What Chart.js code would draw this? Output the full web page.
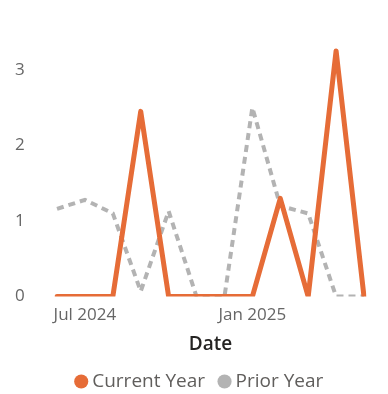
<!DOCTYPE html>
<html>
<head>
<meta charset="utf-8">
<script src="https://cdn.jsdelivr.net/npm/chart.js@4.4.1/dist/chart.umd.min.js"></script>
<style>
  html, body { margin: 0; padding: 0; background: #ffffff; }
  #wrap { width: 388px; height: 394px; }
</style>
</head>
<body>
<div id="wrap"><canvas id="trendChart" width="388" height="394"></canvas></div>
<script>
// Monthly values, Jun 2024 - May 2025
const months = ['Jun 2024', 'Jul 2024', 'Aug 2024', 'Sep 2024', 'Oct 2024', 'Nov 2024',
                'Dec 2024', 'Jan 2025', 'Feb 2025', 'Mar 2025', 'Apr 2025', 'May 2025'];
const currentYear = [0, 0, 0, 2.45, 0, 0, 0, 0, 1.3, 0, 3.25, 0];
const priorYear = [1.16, 1.28, 1.1, 0.07, 1.13, 0, 0, 2.5, 1.2, 1.1, 0, 0];
const shownTicks = ['Jul 2024', 'Jan 2025'];
const yTicks = [0, 1, 2, 3];

const ORANGE = '#E66C37';
const GREY = '#B3B3B3';
const FONT = '"Open Sans", "Noto Sans", sans-serif';

const ctx = document.getElementById('trendChart').getContext('2d');

new Chart(ctx, {
    type: 'line',
    data: {
        labels: months,
        datasets: [{
            label: 'Current Year',
            data: currentYear,
            borderColor: ORANGE,
            backgroundColor: ORANGE,
            borderWidth: 5,
            borderJoinStyle: 'round',
            borderCapStyle: 'round',
            pointRadius: 0,
            tension: 0
        }, {
            label: 'Prior Year',
            data: priorYear,
            borderColor: GREY,
            backgroundColor: GREY,
            borderWidth: 4,
            borderDash: [7, 5],
            pointRadius: 0,
            tension: 0
        }]
    },
    options: {
        responsive: false,
        animation: false,
        layout: {
            padding: { top: 32, left: 15, right: 0, bottom: -7 }
        },
        plugins: {
            legend: {
                position: 'bottom',
                labels: {
                    usePointStyle: true,
                    pointStyle: 'circle',
                    boxWidth: 3,
                    boxHeight: 10,
                    padding: 18,
                    color: '#605E5C',
                    font: { family: FONT, size: 19 },
                    // solid dots, no outline
                    generateLabels: function(chart) {
                        const items = Chart.defaults.plugins.legend.labels.generateLabels(chart);
                        items.forEach(item => {
                            item.lineWidth = 0;
                            item.lineDash = [];
                        });
                        return items;
                    }
                }
            },
            tooltip: { enabled: false }
        },
        scales: {
            x: {
                grid: { display: false, drawTicks: false },
                border: { display: false },
                ticks: {
                    autoSkip: false,
                    maxRotation: 0,
                    padding: 8,
                    color: '#666666',
                    font: { family: FONT, size: 17 },
                    callback: function(value, index) {
                        const label = this.getLabelForValue(value);
                        return shownTicks.includes(label) ? label : '';
                    }
                },
                title: {
                    display: true,
                    text: 'Date',
                    color: '#252423',
                    font: { family: FONT, size: 19, weight: '600', lineHeight: 1.0 },
                    padding: { top: 2, bottom: 0 }
                }
            },
            y: {
                min: 0,
                max: 3.5,
                grid: { display: false, drawTicks: false },
                border: { display: false },
                afterFit: function(scale) { scale.width = 42; },
                afterBuildTicks: function(scale) {
                    scale.ticks = yTicks.map(v => ({ value: v }));
                },
                ticks: {
                    crossAlign: 'far',
                    color: '#666666',
                    font: { family: FONT, size: 17 }
                }
            },
            // empty right-hand gutter
            yRight: {
                position: 'right',
                grid: { display: false, drawTicks: false },
                border: { display: false },
                ticks: { display: false },
                afterFit: function(scale) { scale.width = 24; }
            }
        }
    }
});
</script>
</body>
</html>
